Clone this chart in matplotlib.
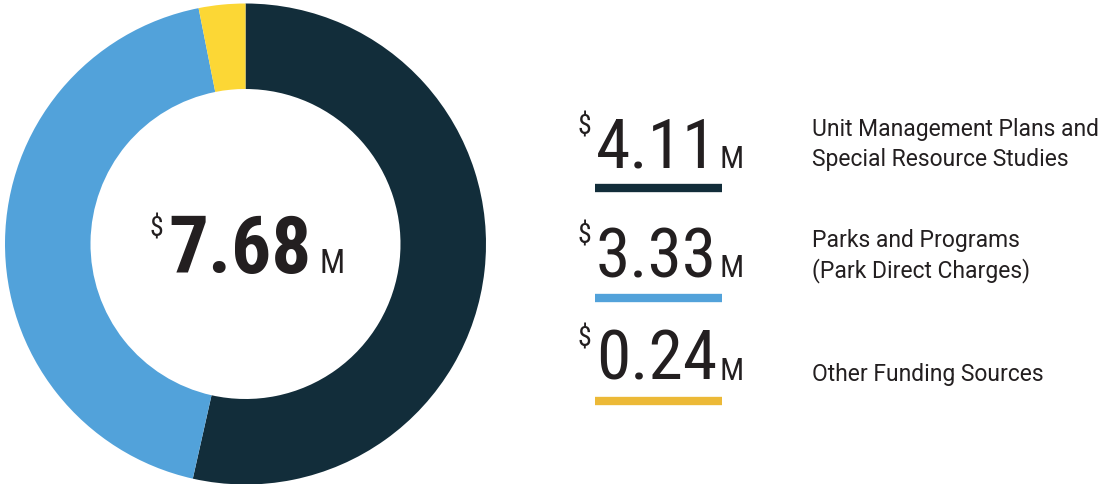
import matplotlib
matplotlib.use("Agg")
import matplotlib.pyplot as plt
from matplotlib import font_manager

# ---- data ----
amounts = [4.11, 3.33, 0.24]
amount_labels = ["4.11", "3.33", "0.24"]
categories = ["Unit Management Plans and\nSpecial Resource Studies",
              "Parks and Programs\n(Park Direct Charges)",
              "Other Funding Sources"]
total_label = "7.68"
donut_colors = ["#122d3a", "#52a2da", "#fcd735"]
bar_colors = ["#122d3a", "#52a2da", "#ecb937"]

names = {f.name for f in font_manager.fontManager.ttflist}
FONT = "Roboto"
for cand in ["Roboto Condensed", "Open Sans Condensed", "Liberation Sans Narrow"]:
    if cand in names:
        FONT = cand
        break
plt.rcParams["font.family"] = [FONT, "DejaVu Sans"]
LABEL_FONT = ["Roboto", "DejaVu Sans"]

W, H = 1101, 485
fig = plt.figure(figsize=(W / 100, H / 100), dpi=100)
ax = fig.add_axes([0, 0, 1, 1])

cx, cy = 245.5, H - 245
R = 240.5
ax.pie(amounts, colors=donut_colors, startangle=90, counterclock=False,
       radius=R, center=(cx, cy), wedgeprops=dict(width=R - 155, linewidth=0))
ax.set_xlim(0, W)
ax.set_ylim(0, H)
ax.set_aspect("equal")
ax.axis("off")

TXT = "#231f20"
fig.canvas.draw()
renderer = fig.canvas.get_renderer()
inv = ax.transData.inverted()


def ext(t):
    bb = t.get_window_extent(renderer)
    (x0, y0), (x1, y1) = inv.transform([[bb.x0, bb.y0], [bb.x1, bb.y1]])
    return x0, y0, x1, y1


def money(x, base_y, num, size, weight="normal", ha="left", msize=23, dsize=20,
          mgap=10, dgap=3, dlift=0, cap=0.711):
    t = ax.text(x, base_y, num, fontsize=size, fontweight=weight, color=TXT,
                ha=ha, va="baseline")
    x0, y0, x1, y1 = ext(t)
    cap_h = size * 100 / 72 * cap
    ax.text(x1 + mgap, base_y, "M", fontsize=msize, color=TXT, ha="left", va="baseline")
    ax.text(x0 - dgap, base_y + cap_h + dlift, "$", fontsize=dsize, color=TXT,
            ha="right", va="top")
    return x0, x1


# centre total
money(cx - 5.5, H - 273, total_label, 57, weight="bold", ha="center",
      msize=24, dsize=20, mgap=8, dgap=5, dlift=1)

num_base = [168, 277, 380]
bar_y = [189, 299, 402]
label_base = [[136, 166], [247, 277], [381]]
for i in range(len(amounts)):
    money(596, H - num_base[i], amount_labels[i], 50, msize=23, dsize=20,
          mgap=2, dgap=5, dlift=5)
    ax.plot([595, 722], [H - bar_y[i]] * 2, color=bar_colors[i], lw=6,
            solid_capstyle="butt")
    lines = categories[i].split("\n")
    for ln, by in zip(lines, label_base[i]):
        ax.text(812, H - by, ln, fontsize=16.5, color=TXT, ha="left",
                va="baseline", family=LABEL_FONT)

fig.savefig("out.png", dpi=100)
